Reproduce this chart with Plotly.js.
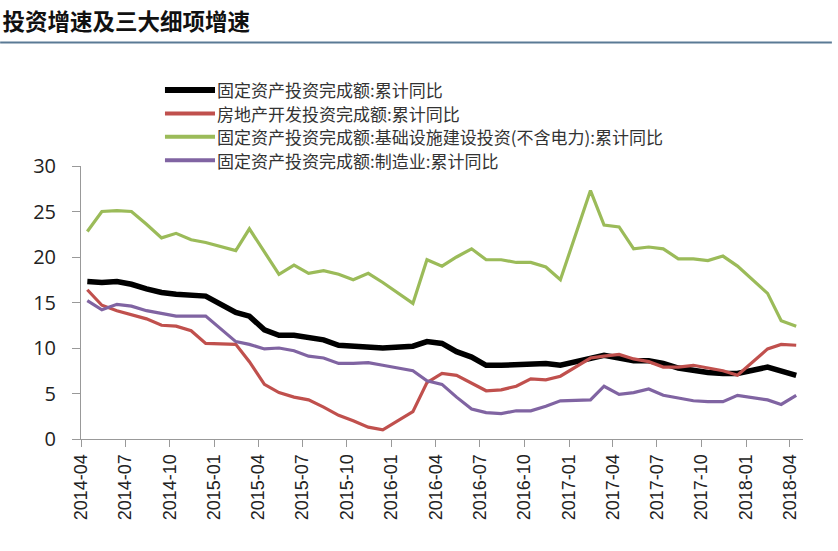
<!DOCTYPE html>
<html>
<head>
<meta charset="utf-8">
<script src="https://cdn.plot.ly/plotly-3.0.1.min.js"></script>
<style>html,body{margin:0;padding:0;background:#fff;}#chart{width:838px;height:551px;}</style>
</head>
<body>
<div id="chart"></div>
<script>
// Months 2014-04 .. 2018-04 (January values not published -> null, lines joined across)
const months = [
  "2014-04","2014-05","2014-06","2014-07","2014-08","2014-09","2014-10","2014-11","2014-12",
  "2015-01","2015-02","2015-03","2015-04","2015-05","2015-06","2015-07","2015-08","2015-09","2015-10","2015-11","2015-12",
  "2016-01","2016-02","2016-03","2016-04","2016-05","2016-06","2016-07","2016-08","2016-09","2016-10","2016-11","2016-12",
  "2017-01","2017-02","2017-03","2017-04","2017-05","2017-06","2017-07","2017-08","2017-09","2017-10","2017-11","2017-12",
  "2018-01","2018-02","2018-03","2018-04"
];
const faiTotal = [17.3,17.2,17.3,17.0,16.5,16.1,15.9,15.8,15.7,
  null,13.9,13.5,12.0,11.4,11.4,11.2,10.9,10.3,10.2,10.2,10.0,
  null,10.2,10.7,10.5,9.6,9.0,8.1,8.1,8.2,8.3,8.3,8.1,
  null,8.9,9.2,8.9,8.6,8.6,8.3,7.8,7.5,7.3,7.2,7.2,
  null,7.9,7.5,7.0];
const realEstate = [16.4,14.7,14.1,13.7,13.2,12.5,12.4,11.9,10.5,
  null,10.4,8.5,6.0,5.1,4.6,4.3,3.5,2.6,2.0,1.3,1.0,
  null,3.0,6.2,7.2,7.0,6.1,5.3,5.4,5.8,6.6,6.5,6.9,
  null,8.9,9.1,9.3,8.8,8.5,7.9,7.9,8.1,7.8,7.5,7.0,
  null,9.9,10.4,10.3];
const infra = [22.8,25.0,25.1,25.0,23.6,22.1,22.6,21.9,21.6,
  null,20.7,23.1,20.6,18.1,19.1,18.2,18.5,18.1,17.5,18.2,17.2,
  null,14.9,19.7,19.0,20.0,20.9,19.7,19.7,19.4,19.4,18.9,17.5,
  null,27.3,23.5,23.3,20.9,21.1,20.9,19.8,19.8,19.6,20.1,19.0,
  null,16.0,13.0,12.4];
const manuf = [15.2,14.2,14.8,14.6,14.1,13.8,13.5,13.5,13.5,
  null,10.7,10.4,9.9,10.0,9.7,9.1,8.9,8.3,8.3,8.4,8.1,
  null,7.5,6.4,6.0,4.6,3.3,2.9,2.8,3.1,3.1,3.6,4.2,
  null,4.3,5.8,4.9,5.1,5.5,4.8,4.5,4.2,4.1,4.1,4.8,
  null,4.3,3.8,4.8];
const names = [
  "固定资产投资完成额:累计同比",
  "房地产开发投资完成额:累计同比",
  "固定资产投资完成额:基础设施建设投资(不含电力):累计同比",
  "固定资产投资完成额:制造业:累计同比"
];
const tickVals = ["2014-04","2014-07","2014-10","2015-01","2015-04","2015-07","2015-10","2016-01","2016-04","2016-07","2016-10","2017-01","2017-04","2017-07","2017-10","2018-01","2018-04"];

const xs = months.map(m => m + "-14");
const series = [faiTotal, realEstate, infra, manuf];
const colors = ["#000000","#c0504d","#9bbb59","#8064a2"];
const widths = [5.5, 3.2, 3.2, 3.2];

const traces = series.map((ys, i) => ({
  type: "scatter", mode: "lines", x: xs, y: ys, name: names[i],
  connectgaps: true, showlegend: false,
  line: {color: colors[i], width: widths[i]}
}));

// manual legend (line sample + label) placed above the plot area
const legendY = [1.2784, 1.1927, 1.1070, 1.0212];
const shapes = [{type: "line", xref: "paper", yref: "paper", x0: -0.112, x1: 1.040, y0: 1.452, y1: 1.452,
                 line: {color: "#5a7a95", width: 2}}];
const annotations = [];
names.forEach((n, i) => {
  shapes.push({type: "line", xref: "paper", yref: "paper", x0: 0.1163, x1: 0.1856,
               y0: legendY[i], y1: legendY[i], line: {color: colors[i], width: i === 0 ? 6 : 4}});
  annotations.push({xref: "paper", yref: "paper", x: 0.1870, y: legendY[i], xanchor: "left", yanchor: "middle",
                    showarrow: false, text: n, borderpad: 0,
                    font: {size: 17, color: "#333", family: "Noto Sans CJK SC, sans-serif"}});
});

const layout = {
  width: 838, height: 551,
  margin: {l: 81, r: 35, t: 166, b: 112},
  paper_bgcolor: "#fff", plot_bgcolor: "#fff",
  font: {family: "Noto Sans CJK SC, sans-serif", color: "#222"},
  title: {text: "<b>投资增速及三大细项增速</b>", x: 0.003, xanchor: "left", xref: "container",
          y: 0.960, yanchor: "middle", yref: "container",
          font: {size: 22.5, color: "#111", family: "Noto Sans CJK SC, sans-serif"}},
  showlegend: false,
  xaxis: {
    type: "date", range: ["2014-04-01", "2018-04-28"],
    tickvals: tickVals.map(t => t + "-01"), ticktext: tickVals,
    tickangle: -90, ticks: "outside", ticklen: 7, tickcolor: "#999",
    showline: true, linecolor: "#999", linewidth: 1, showgrid: false, zeroline: false,
    tickfont: {size: 18, color: "#222", family: "Liberation Sans, Arial, sans-serif"}
  },
  yaxis: {
    range: [0, 30], tickvals: [0,5,10,15,20,25,30],
    ticks: "outside", ticklen: 8, tickcolor: "#999", ticklabelstandoff: 12,
    showline: true, linecolor: "#999", linewidth: 1, showgrid: false, zeroline: false,
    tickfont: {size: 20, color: "#222", family: "Open Sans, sans-serif"}
  },
  shapes: shapes,
  annotations: annotations
};
Plotly.newPlot("chart", traces, layout, {displayModeBar: false, staticPlot: true});
</script>
</body>
</html>
